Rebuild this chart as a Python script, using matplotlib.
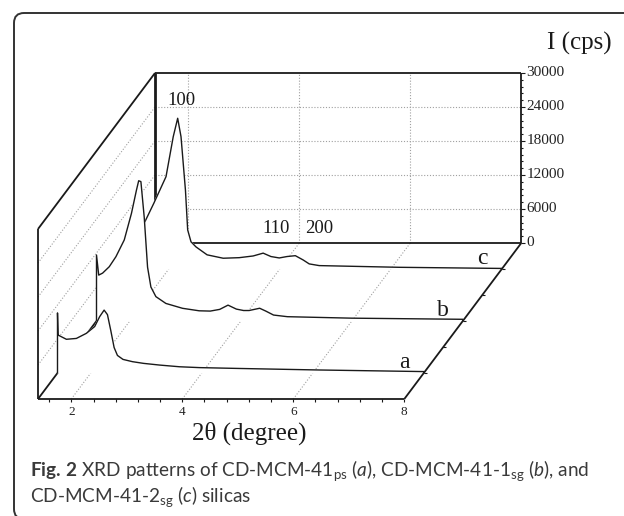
import numpy as np
import matplotlib
matplotlib.use("Agg")
import matplotlib.pyplot as plt
from matplotlib.patches import FancyBboxPatch

# XRD patterns: 2theta (degree) and intensity (cps)
tt_a = [1.40, 1.41, 1.56, 1.74, 1.92, 2.07, 2.16, 2.24, 2.30, 2.36, 2.42, 2.48, 2.58, 2.75,
        2.95, 3.24, 3.60, 3.96, 4.68, 6.12, 8.00]
cps_a = [10600, 6700, 5950, 6100, 7000, 8200, 9950, 11100, 10300, 7500, 4500, 3100, 2400, 2000,
         1700, 1400, 1100, 950, 800, 530, 250]

tt_b = [1.40, 1.44, 1.51, 1.63, 1.75, 1.90, 2.03, 2.12, 2.16, 2.20, 2.26, 2.32, 2.38, 2.47,
        2.65, 2.95, 3.25, 3.45, 3.62, 3.77, 3.92, 4.05, 4.15, 4.34, 4.45, 4.59, 4.84, 6.00, 8.00]
cps_b = [11650, 8100, 8450, 9580, 11350, 14300, 19000, 23100, 24750, 24600, 18300, 9500, 6000, 4300,
         3100, 2240, 1800, 1750, 2050, 2800, 2100, 1850, 1850, 2250, 1750, 1050, 760, 500, 300]

tt_c = [1.40, 1.45, 1.57, 1.73, 1.95, 2.08, 2.16, 2.22, 2.30, 2.34, 2.40, 2.49, 2.69, 2.98,
        3.27, 3.52, 3.70, 3.84, 3.99, 4.13, 4.28, 4.42, 4.53, 4.71, 6.15, 8.00]
cps_c = [10500, 7800, 8350, 11600, 16300, 23350, 26600, 23350, 13900, 6900, 4800, 3900, 2500, 1900,
         2000, 2300, 2800, 2200, 1950, 2200, 2350, 1600, 900, 600, 300, 100]

series_names = ["a", "b", "c"]
series_depth = [1 / 6, 1 / 2, 5 / 6]
x_ticks = [2, 4, 6, 8]
y_ticks = [0, 6000, 12000, 18000, 24000, 30000]
peak_labels = ["100", "110", "200"]
peak_pos = [(2.23, 29700), (3.94, 7180), (4.71, 7180)]  # on pattern c

X0, X1 = 1.4, 8.0
IMAX = 30000

# pixel scale of the front plane and oblique shift of the depth axis
PX = 1 / 55.5        # degree per pixel
PY = 30000 / 170     # cps per pixel
DX, DY = 117 * PX, 156 * PY


def P(tt, d, inten):
    return np.asarray(tt) + d * DX, np.asarray(inten) + d * DY


def seg(p, q, **kw):
    ax.plot([p[0], q[0]], [p[1], q[1]], solid_capstyle="butt", **kw)


fig = plt.figure(figsize=(6.24, 5.16), dpi=100)
ax = fig.add_axes([0, 0, 1, 1])
ax.set_xlim(X0 - 38 * PX, X0 + (624 - 38) * PX)
ax.set_ylim(-(516 - 399) * PY, 399 * PY)
ax.axis("off")

serif = "Liberation Serif"
dot = dict(color="#a0a0a0", lw=0.8, linestyle=(0, (1, 1.6)), zorder=1)
edge = dict(color="#1a1a1a", lw=1.3)

# back wall grid
for t in x_ticks[:-1]:
    seg(P(t, 1, 0), P(t, 1, IMAX), **dot)
for v in y_ticks[1:-1]:
    seg(P(X0, 1, v), P(X1, 1, v), **dot)
    seg(P(X0, 0, v), P(X0, 1, v), **dot)   # left wall
# floor grid
for t in x_ticks[:-1]:
    seg(P(t, 0, 0), P(t, 1, 0), **dot)

# back wall and left wall edges
seg(P(X0, 1, 0), P(X0, 1, IMAX), color="#1a1a1a", lw=2.0, zorder=1.5)
seg(P(X0, 1, IMAX), P(X1, 1, IMAX), zorder=1.5, **edge)
seg(P(X1, 1, 0), P(X1, 1, IMAX), zorder=1.5, **edge)
seg(P(X0, 1, 0), P(X1, 1, 0), zorder=1.5, **edge)
seg(P(X0, 0, IMAX), P(X0, 1, IMAX), zorder=1.5, **edge)
seg(P(X0, 0, 0), P(X0, 1, 0), zorder=1.5, **edge)

# intensity axis ticks (right of back wall)
for v in np.arange(0, IMAX + 1, 1200):
    ln = 4 if v % 6000 == 0 else 2
    seg(P(X1, 1, v), (P(X1, 1, v)[0] + ln * PX, P(X1, 1, v)[1]), color="#1a1a1a", lw=0.8, zorder=1.5)
for v in y_ticks:
    x, y = P(X1, 1, v)
    ax.text(x + 5 * PX, y, str(v), fontsize=11, family=serif, ha="left", va="center", color="#222")

# patterns, back to front, each hiding what lies behind it
patterns = [(tt_a, cps_a), (tt_b, cps_b), (tt_c, cps_c)]
for i in [2, 1, 0]:
    tt, cps = patterns[i]
    d = series_depth[i]
    xs = [X0] + list(tt) + [X1]
    ys = [0] + list(cps) + [0]
    px, py = P(xs, d, ys)
    z = 2 + (2 - i)
    ax.fill(px, py, color="white", zorder=z)
    ax.plot(px, py, color="#1a1a1a", lw=1.0, zorder=z + 0.1)
    lx, ly = P(7.65, d, 900)
    ax.text(lx, ly, series_names[i], fontsize=17, family=serif, ha="center", va="baseline",
            color="#1a1a1a", zorder=z + 0.2)

for lab, (t, v) in zip(peak_labels, peak_pos):
    x, y = P(t, series_depth[2], v)
    ax.text(x, y, lab, fontsize=13.5, family=serif, ha="center", va="center", color="#1a1a1a", zorder=1.8)

# front edges
seg(P(X0, 0, 0), P(X0, 0, IMAX), zorder=6, **edge)
seg(P(X0, 0, 0), P(X1, 0, 0), zorder=6, **edge)
seg(P(X1, 0, 0), P(X1, 1, 0), zorder=6, **edge)

# 2theta ticks
for t in np.arange(1.6, X1 + 0.01, 0.4):
    x, y = P(t, 0, 0)
    seg((x, y), (x, y - 2.5 * PY), color="#1a1a1a", lw=0.8, zorder=6)
for t in x_ticks:
    x, y = P(t, 0, 0)
    ax.text(x, y - 13 * PY, str(t), fontsize=9.5, family=serif, ha="center", va="center", color="#222")

# depth ticks on the right floor edge
for d in np.arange(1, 6) / 6:
    x, y = P(X1, d, 0)
    seg((x, y), (x + 3 * PX, y), color="#1a1a1a", lw=0.8, zorder=6)

fig.text(249 / 624, 1 - 433 / 516, "2\u03b8 (degree)", fontsize=18, family=serif,
         ha="center", va="center", color="#1a1a1a")
fig.text(579 / 624, 1 - 43 / 516, "I (cps)", fontsize=18, family=serif,
         ha="center", va="center", color="#1a1a1a")

# caption and frame
plt.rcParams["mathtext.fontset"] = "custom"
plt.rcParams["mathtext.rm"] = "Lato"
plt.rcParams["mathtext.it"] = "Lato:italic"
plt.rcParams["mathtext.bf"] = "Lato:bold"
cap1 = (r"$\mathbf{Fig.\,2}$ XRD patterns of CD-MCM-41$_{\mathrm{ps}}$ ($\mathit{a}$), "
        r"CD-MCM-41-1$_{\mathrm{sg}}$ ($\mathit{b}$), and")
cap2 = r"CD-MCM-41-2$_{\mathrm{sg}}$ ($\mathit{c}$) silicas"
fig.text(30 / 624, 1 - 471 / 516, cap1, fontsize=13.7, family="Lato", ha="left", va="center", color="#3a3a3a")
fig.text(30 / 624, 1 - 497 / 516, cap2, fontsize=13.7, family="Lato", ha="left", va="center", color="#3a3a3a")

frame = FancyBboxPatch((0.14, -0.03), 6.4, 5.06, boxstyle="round,pad=0,rounding_size=0.1",
                       transform=fig.dpi_scale_trans, fill=False, lw=1.4, ec="#333333")
fig.add_artist(frame)

fig.savefig("out.png", dpi=100)
